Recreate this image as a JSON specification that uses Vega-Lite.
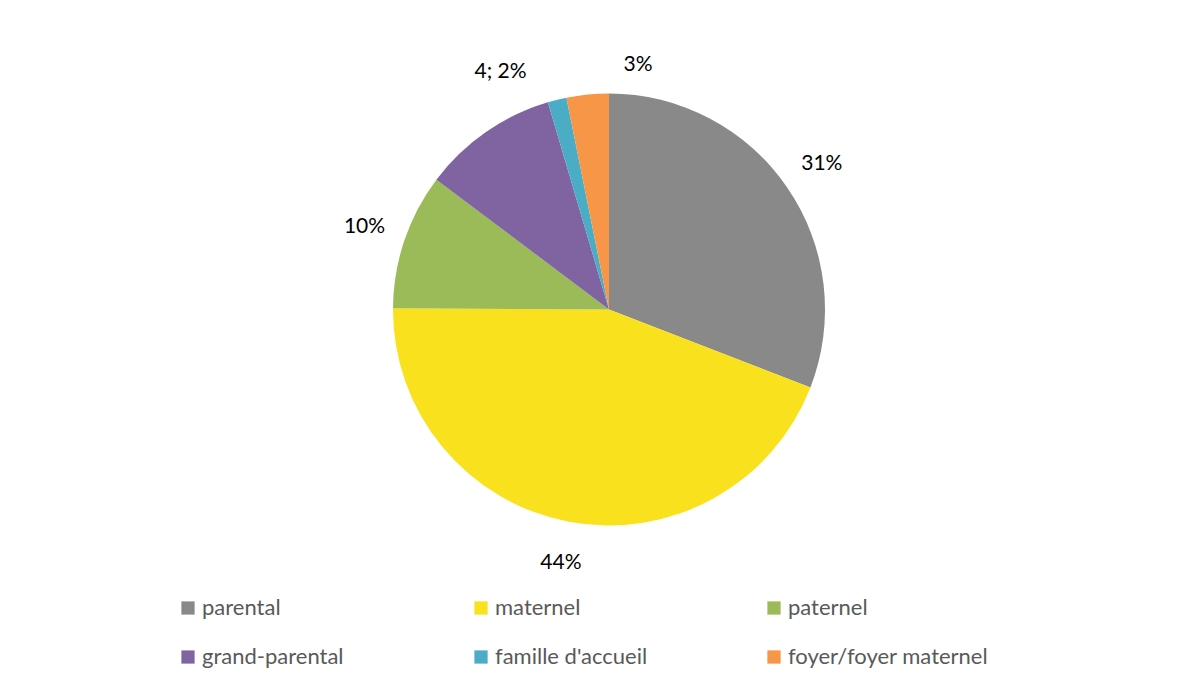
{
  "$schema": "https://vega.github.io/schema/vega-lite/v6.json",
  "width": 1162,
  "height": 619,
  "padding": {"left": 28, "top": 0, "right": 0, "bottom": 76},
  "autosize": {"type": "none"},
  "background": "white",
  "config": {"view": {"stroke": null}, "font": "Lato"},
  "data": {
    "values": [
      {"i": 1, "categorie": "parental", "n": 88, "label": "31%"},
      {"i": 2, "categorie": "maternel", "n": 126, "label": "44%"},
      {"i": 3, "categorie": "paternel", "n": 29, "label": "10%"},
      {"i": 4, "categorie": "grand-parental", "n": 29, "label": ""},
      {"i": 5, "categorie": "famille d'accueil", "n": 4, "label": "4; 2%"},
      {"i": 6, "categorie": "foyer/foyer maternel", "n": 9, "label": "3%"}
    ]
  },
  "encoding": {
    "theta": {"field": "n", "type": "quantitative", "stack": true},
    "order": {"field": "i", "type": "quantitative"}
  },
  "layer": [
    {
      "mark": {"type": "arc", "outerRadius": 216},
      "encoding": {
        "color": {
          "field": "categorie",
          "type": "nominal",
          "sort": ["parental", "maternel", "paternel", "grand-parental", "famille d'accueil", "foyer/foyer maternel"],
          "scale": {
            "domain": ["parental", "maternel", "paternel", "grand-parental", "famille d'accueil", "foyer/foyer maternel"],
            "range": ["#898989", "#f9e11e", "#9bbb59", "#8064a2", "#4bacc6", "#f79646"]
          },
          "legend": {
            "title": null,
            "orient": "none",
            "legendX": 149,
            "legendY": 597,
            "direction": "horizontal",
            "columns": 3,
            "gridAlign": "all",
            "columnPadding": 67,
            "rowPadding": 27,
            "symbolType": "square",
            "symbolSize": 175,
            "symbolStrokeWidth": 0,
            "labelFontSize": 22,
            "labelColor": "#595959",
            "labelFont": "Lato",
            "labelOffset": 3,
            "labelLimit": 400
          }
        }
      }
    },
    {
      "mark": {"type": "text", "radius": 258, "fontSize": 21, "color": "#000000", "font": "Lato"},
      "encoding": {
        "text": {"condition": {"test": "datum.i <= 4", "field": "label"}, "value": ""}
      }
    },
    {
      "mark": {"type": "text", "radius": 252, "fontSize": 21, "color": "#000000", "font": "Lato", "dx": -48, "dy": 7},
      "encoding": {
        "text": {"condition": {"test": "datum.i == 5", "field": "label"}, "value": ""}
      }
    },
    {
      "mark": {"type": "text", "radius": 252, "fontSize": 21, "color": "#000000", "font": "Lato", "dx": 54, "dy": 6},
      "encoding": {
        "text": {"condition": {"test": "datum.i == 6", "field": "label"}, "value": ""}
      }
    }
  ]
}
